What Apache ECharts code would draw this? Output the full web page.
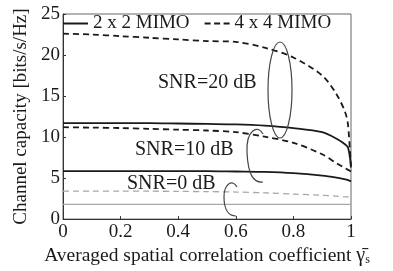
<!DOCTYPE html>
<html><head><meta charset="utf-8">
<script src="https://cdn.jsdelivr.net/npm/echarts@6/dist/echarts.min.js"></script>
<style>html,body{margin:0;padding:0;background:#fff}#c{width:393px;height:271px}</style>
</head><body><div id="c"></div>
<script>
// Data
const xs = [0, 0.1, 0.2, 0.3, 0.4, 0.5, 0.6, 0.7, 0.8, 0.9, 0.95, 0.98, 0.99, 1.0];
const snr20_2x2 = [11.7, 11.7, 11.7, 11.7, 11.65, 11.6, 11.55, 11.4, 11.1, 10.6, 9.8, 9.1, 8.7, 6.5];
const snr20_4x4 = [22.6, 22.5, 22.3, 22.1, 21.9, 21.7, 21.6, 20.9, 19.7, 17.5, 15.2, 13.0, 11.4, 6.0];
const snr10_2x2 = [5.85, 5.85, 5.85, 5.85, 5.85, 5.85, 5.8, 5.75, 5.6, 5.3, 5.05, 4.85, 4.75, 4.6];
const snr10_4x4 = [11.2, 11.15, 11.1, 11.0, 10.9, 10.8, 10.6, 10.05, 9.3, 7.9, 6.8, 6.2, 6.0, 5.8];
const snr0_2x2  = [1.8, 1.8, 1.8, 1.8, 1.8, 1.8, 1.8, 1.8, 1.8, 1.8, 1.8, 1.8, 1.8, 1.8];
const snr0_4x4  = [3.4, 3.4, 3.4, 3.4, 3.38, 3.35, 3.3, 3.2, 3.05, 2.9, 2.8, 2.7, 2.7, 2.7];
const xTicks = [0, 0.2, 0.4, 0.6, 0.8, 1];
const yTicks = [0, 5, 10, 15, 20, 25];
const legendNames = ['2 x 2 MIMO', '4 x 4 MIMO'];
const snrLabels = ['SNR=20 dB', 'SNR=10 dB', 'SNR=0 dB'];

const pts = arr => xs.map((x, i) => [x, arr[i]]);
const FONT = 'Liberation Serif';
const black = '#1a1a1a', gray = '#a8a8a8';

function mk(name, data, color, dashed, width) {
  return {
    name: name, type: 'line', data: pts(data), symbol: 'none', smooth: 0.3,
    lineStyle: { color: color, width: width, type: dashed ? [6, 4] : 'solid' },
    itemStyle: { color: color }, z: 3
  };
}

const solidIcon = 'path://M0,0h25v2h-25z';
const dashIcon = 'path://M0,0h6v2h-6z M9.5,0h6v2h-6z M19,0h6v2h-6z';

const chart = echarts.init(document.getElementById('c'), null, { renderer: 'canvas' });
chart.setOption({
  backgroundColor: '#fff',
  animation: false,
  grid: { left: 63, right: 42, top: 14, bottom: 50, show: true, borderColor: '#666', borderWidth: 1 },
  legend: {
    data: [{ name: legendNames[0], icon: solidIcon }, { name: legendNames[1], icon: dashIcon }],
    left: 63, top: 14, itemWidth: 25, itemHeight: 2, itemGap: 15,
    textStyle: { fontFamily: FONT, fontSize: 19, color: black }, padding: 0
  },
  xAxis: {
    type: 'value', min: 0, max: 1, interval: 0.2,
    axisLine: { lineStyle: { color: '#333' } },
    axisTick: { inside: true, length: 3, lineStyle: { color: '#333' } },
    axisLabel: { fontFamily: FONT, fontSize: 19, color: black, margin: 3,
      formatter: v => String(xTicks.find(t => Math.abs(t - v) < 1e-9) ?? v) },
    splitLine: { show: false },
    name: 'Averaged spatial correlation coefficient {g|γ̄}{s|s}',
    nameLocation: 'middle', nameGap: 26,
    nameTextStyle: { fontFamily: FONT, fontSize: 19.5, color: black,
      rich: { g: { fontFamily: FONT, fontSize: 20, color: black },
              s: { fontFamily: FONT, fontSize: 12, color: black, padding: [8, 0, 0, 0] } } }
  },
  yAxis: {
    type: 'value', min: yTicks[0], max: yTicks[yTicks.length - 1], interval: 5,
    axisLine: { show: true, lineStyle: { color: '#333' } },
    axisTick: { show: true, inside: true, length: 3, lineStyle: { color: '#333' } },
    axisLabel: { fontFamily: FONT, fontSize: 19, color: black, margin: 3 },
    splitLine: { show: false },
    name: 'Channel capacity [bits/s/Hz]', nameLocation: 'middle', nameGap: 28,
    nameTextStyle: { fontFamily: FONT, fontSize: 19, color: black }
  },
  series: [
    mk(legendNames[0], snr20_2x2, black, false, 1.8),
    mk(legendNames[1], snr20_4x4, black, true, 1.8),
    mk(legendNames[0], snr10_2x2, black, false, 1.8),
    mk(legendNames[1], snr10_4x4, black, true, 1.8),
    mk(legendNames[0], snr0_2x2, gray, false, 1.3),
    mk(legendNames[1], snr0_4x4, gray, true, 1.3)
  ],
  graphic: [
    { type: 'text', style: { x: 158, y: 83, text: snrLabels[0], font: '20px ' + FONT, fill: black, textVerticalAlign: 'middle' } },
    { type: 'text', style: { x: 135, y: 150, text: snrLabels[1], font: '20px ' + FONT, fill: black, textVerticalAlign: 'middle' } },
    { type: 'text', style: { x: 127, y: 184, text: snrLabels[2], font: '20px ' + FONT, fill: black, textVerticalAlign: 'middle' } },
    { type: 'ellipse', shape: { cx: 280, cy: 90, rx: 12, ry: 48 }, style: { fill: 'none', stroke: '#444', lineWidth: 1.2 }, z: 10 },
    { type: 'bezierCurve', shape: { x1: 263, y1: 134, cpx1: 258, cpy1: 124, cpx2: 246, cpy2: 130, x2: 247, y2: 152 }, style: { fill: 'none', stroke: '#444', lineWidth: 1.2 }, z: 10 },
    { type: 'bezierCurve', shape: { x1: 247, y1: 152, cpx1: 248, cpy1: 176, cpx2: 254, cpy2: 183, x2: 263, y2: 182 }, style: { fill: 'none', stroke: '#444', lineWidth: 1.2 }, z: 10 },
    { type: 'bezierCurve', shape: { x1: 237, y1: 187, cpx1: 233, cpy1: 179, cpx2: 224, cpy2: 183, x2: 224, y2: 197 }, style: { fill: 'none', stroke: '#444', lineWidth: 1.2 }, z: 10 },
    { type: 'bezierCurve', shape: { x1: 224, y1: 197, cpx1: 224, cpy1: 210, cpx2: 229, cpy2: 216, x2: 236, y2: 216 }, style: { fill: 'none', stroke: '#444', lineWidth: 1.2 }, z: 10 }
  ]
});
</script>
</body></html>
